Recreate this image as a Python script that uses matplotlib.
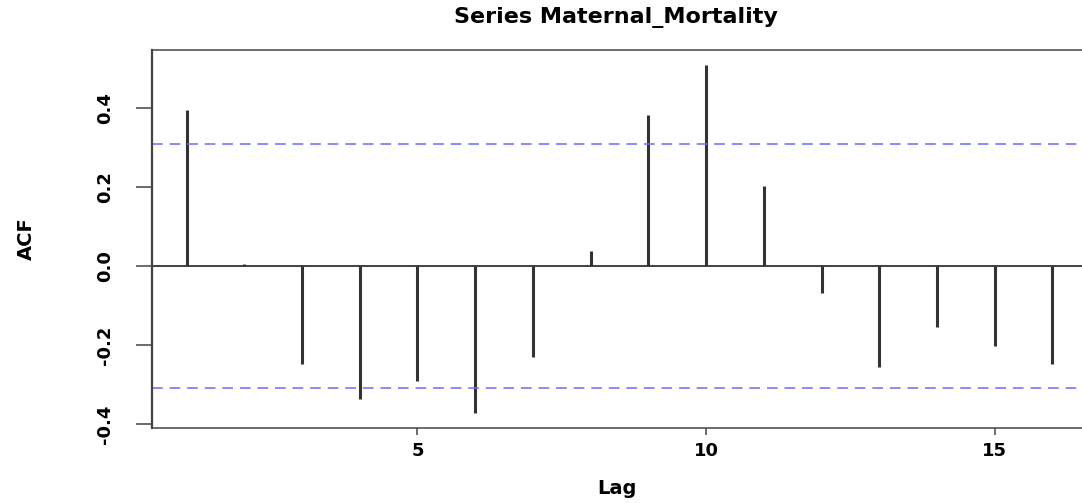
import numpy as np
import matplotlib
matplotlib.use("Agg")
import matplotlib.pyplot as plt

# Autokorrelation der Serie Maternal_Mortality (Lag 1..16)
lags = np.arange(1, 17)
acf_values = [0.395, 0.004, -0.248, -0.337, -0.291, -0.373, -0.230, 0.039,
              0.383, 0.509, 0.203, -0.068, -0.255, -0.154, -0.203, -0.248]
n_obs = 40
conf_limit = 1.96 / np.sqrt(n_obs)

W, H = 1082, 503
fig = plt.figure(figsize=(W / 100, H / 100), dpi=100)
ax = fig.add_axes([152 / W, (H - 428) / H, (1087 - 152) / W, (428 - 50) / H])

ax.vlines(lags, 0, acf_values, color="#333333", lw=2.2)
ax.axhline(0, color="#333333", lw=1.3)
for lim in (conf_limit, -conf_limit):
    ax.axhline(lim, color="#6a6aff", lw=1.1, linestyle=(0, (7, 4.5)))

ax.set_xlim(0.4, 16.6)
ax.set_ylim(-0.410, 0.547)
ax.set_xticks([5, 10, 15])
ax.set_yticks([-0.4, -0.2, 0.0, 0.2, 0.4])
ax.set_yticklabels(["-0.4", "-0.2", "0.0", "0.2", "0.4"])

for side in ("left", "top", "bottom", "right"):
    ax.spines[side].set_color("#444444")
ax.spines["left"].set_linewidth(1.6)
ax.spines["top"].set_linewidth(1.1)
ax.spines["bottom"].set_linewidth(1.1)

ax.tick_params(axis="x", length=5, width=1.1, color="#444444", pad=5,
               labelsize=13)
ax.tick_params(axis="y", length=11.5, width=1.1, color="#444444", pad=16,
               labelsize=13)
for lbl in ax.get_xticklabels():
    lbl.set_fontweight("heavy")
for lbl in ax.get_yticklabels():
    lbl.set_fontweight("heavy")
    lbl.set_rotation(90)
    lbl.set_va("center")
    lbl.set_ha("right")

fig.text(616 / W, 1 - 17 / H, "Series Maternal_Mortality", ha="center",
         va="center", fontsize=16, fontweight="heavy")
fig.text(617 / W, 1 - 488 / H, "Lag", ha="center", va="center",
         fontsize=14, fontweight="heavy")
fig.text(26 / W, 1 - 239 / H, "ACF", ha="center", va="center",
         rotation=90, fontsize=14, fontweight="heavy")

fig.savefig("out.png", dpi=100)
